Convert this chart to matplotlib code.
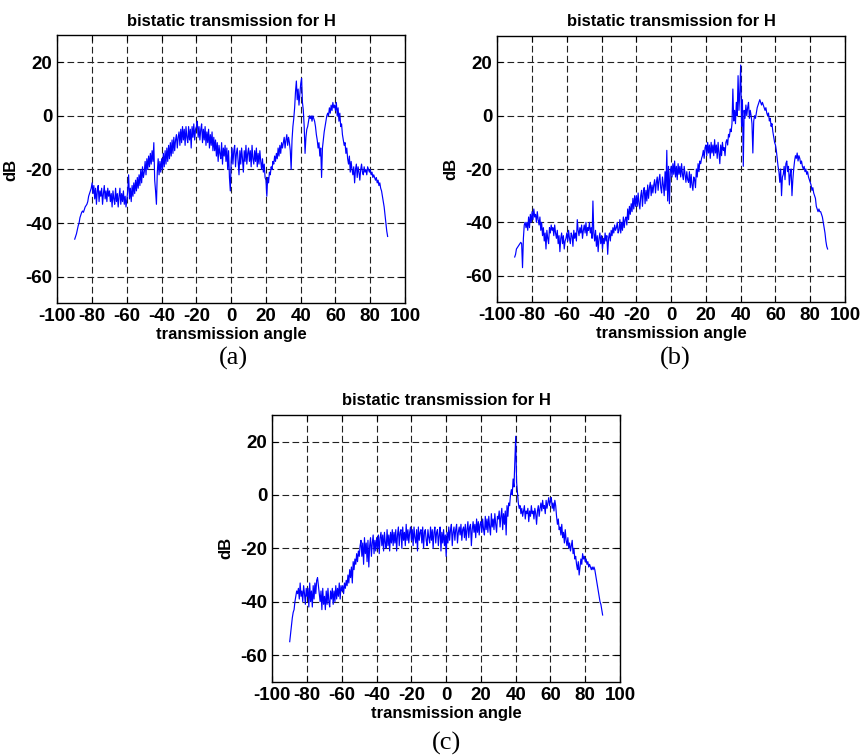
# -*- coding: utf-8 -*-

import numpy as np
import matplotlib
matplotlib.use('Agg')
import matplotlib.pyplot as plt


ANGLES = np.arange(-90, 90.5, 0.5)

DB_A = [
    -46, -45, -44, -42.5, -41, -40, -38, -37, -36, -35.5, -36, -35, -34, -33.5, -33, -32, -30, -29, -28, -27,
    -25, -29, -26, -31, -27, -33, -28, -26, -32, -28, -30, -27, -33, -29, -26, -31, -28, -32, -27, -30,
    -28, -32, -29, -34, -28, -31, -33, -27, -32, -29, -34, -30, -27, -33, -29, -32, -28, -33, -30, -34,
    -31, -28, -22, -31, -27, -32, -26, -30, -25, -29, -24, -28, -23, -27, -22, -26, -20, -25, -19, -23,
    -21, -17, -22, -16, -20, -15, -19, -14, -18, -13, -17, -10, -24, -28, -33, -21, -16, -22, -17, -21,
    -16, -20, -14, -19, -13, -18, -12, -17, -11, -16, -10, -15, -9, -14, -8, -13, -9, -7, -12, -8,
    -6, -11, -5, -10, -4, -9, -5, -11, -4, -8, -10, -4, -9, -5, -12, -4, -8, -3, -9, -5,
    -4, -2, -8, -4, -9, -5, -3, -10, -5, -9, -4, -11, -6, -10, -5, -12, -7, -11, -6, -13,
    -8, -13, -9, -15, -10, -17, -11, -14, -16, -10, -18, -12, -15, -11, -17, -12, -20, -13, -23, -28,
    -17, -12, -18, -13, -11, -19, -14, -12, -17, -22, -13, -18, -12, -16, -21, -13, -17, -11, -18, -14,
    -12, -17, -13, -19, -11, -16, -18, -13, -17, -12, -19, -14, -18, -13, -17, -20, -16, -21, -18, -23,
    -24, -30, -23, -25, -21, -22, -19, -20, -17, -18, -15, -17, -14, -16, -12, -15, -11, -14, -10, -12,
    -10, -8, -12, -9, -7, -11, -8, -10, -13, -20, -9, -4, -1, 3, 9, 13, 6, 10, 4, 8,
    12, 14, 5, 2, -4, -14, -8, -5, -4, -2, 0, -1, 0, -2, 0, -1, -2, -4, -7, -9,
    -12, -10, -15, -12, -23, -12, -9, -6, -4, -2, 0, 1, 0, 3, 1, 4, 2, 5, 3, 4,
    2, 5, 0, 3, -2, 1, -4, -3, -7, -9, -11, -10, -14, -12, -16, -18, -15, -21, -17, -20,
    -22, -19, -25, -20, -18, -23, -19, -21, -24, -20, -18, -21, -22, -19, -21, -20, -22, -19, -20, -21,
    -20, -22, -21, -23, -22, -23, -24, -23, -25, -24, -26, -25, -27, -28, -30, -32, -34, -37, -40, -43, -45,
]

DB_B = [
    -53, -52, -50, -49.5, -49, -48.5, -48, -47.5, -48, -57, -46, -41, -40, -42, -40, -43, -38, -42, -37, -40,
    -36, -39, -35, -38, -37, -40, -36, -39, -41, -38, -43, -40, -45, -42, -47, -44, -50, -43, -46, -48,
    -42, -44, -41, -43, -42, -45, -41, -44, -46, -43, -48, -45, -51, -46, -44, -48, -45, -50, -47, -46,
    -44, -47, -43, -46, -48, -44, -45, -49, -43, -46, -44, -47, -39, -43, -45, -42, -44, -41, -46, -43,
    -41, -44, -40, -45, -42, -43, -40, -44, -42, -46, -32, -44, -47, -43, -49, -45, -51, -46, -44, -48,
    -45, -50, -46, -48, -44, -47, -45, -52, -46, -44, -47, -43, -45, -42, -44, -41, -43, -42, -40, -44,
    -43, -39, -44, -40, -43, -38, -42, -39, -38, -41, -35, -39, -34, -37, -33, -36, -31, -35, -30, -34,
    -30, -34, -29, -33, -35, -30, -28, -34, -29, -27, -33, -28, -32, -26, -31, -27, -25, -30, -26, -29,
    -26, -24, -29, -25, -23, -28, -24, -22, -27, -29, -23, -26, -30, -21, -28, -13, -32, -19, -33, -21,
    -19, -23, -18, -22, -17, -23, -19, -24, -18, -22, -19, -23, -18, -22, -24, -19, -22, -25, -21, -24,
    -25, -21, -27, -22, -26, -28, -23, -24, -27, -20, -23, -18, -21, -17, -18, -16, -15, -13, -16, -12,
    -11, -15, -10, -14, -11, -16, -10, -14, -11, -15, -9, -14, -11, -16, -10, -14, -18, -11, -15, -10,
    -13, -12, -15, -10, -9, -11, -7, -8, -5, -6, -3, 10, -2, 2, -3, 5, 0, 15, 2, 9,
    19, -4, 6, -19, 2, -1, 4, 0, 3, 5, -1, 2, 0, -3, -14, -2, 0, -1, 1, 3,
    4, 5, 6, 5, 4, 5, 4, 3, 2, 3, 1, 0, 1, -2, -1, -4, -3, -6, -8, -10,
    -11, -13, -16, -19, -21, -25, -20, -30, -23, -22, -19, -24, -18, -17, -21, -19, -26, -22, -20, -30,
    -24, -20, -17, -15, -16, -14, -17, -15, -16, -18, -17, -19, -20, -19, -21, -20, -22, -21, -23, -24,
    -25, -26, -28, -27, -29, -30, -31, -34, -35, -36, -35, -36, -36, -37, -38, -40, -42, -44, -47, -49, -50,
]

DB_C = [
    -55, -52, -49, -46, -44, -43, -40, -38, -36, -37, -35, -39, -33, -38, -36, -40, -34, -37, -41, -35,
    -38, -35, -42, -33, -40, -36, -42, -34, -39, -33, -37, -32, -31, -34, -37, -40, -36, -43, -35, -41,
    -38, -43, -36, -41, -35, -40, -42, -36, -39, -35, -41, -36, -40, -34, -39, -35, -38, -33, -39, -34,
    -36, -34, -37, -33, -35, -32, -34, -30, -33, -28, -31, -27, -33, -25, -28, -24, -26, -22, -25, -21,
    -23, -19, -17, -23, -18, -26, -16, -22, -18, -25, -17, -27, -19, -16, -23, -18, -15, -22, -17, -21,
    -16, -20, -15, -22, -16, -14, -19, -15, -21, -14, -18, -20, -13, -19, -15, -21, -14, -18, -13, -19,
    -14, -18, -13, -21, -15, -12, -19, -14, -13, -20, -12, -17, -14, -19, -11, -17, -13, -18, -14, -12,
    -17, -13, -19, -12, -16, -18, -13, -21, -12, -17, -14, -13, -18, -12, -20, -14, -13, -17, -19, -13,
    -16, -18, -12, -17, -13, -20, -14, -12, -18, -14, -13, -19, -15, -12, -21, -14, -18, -13, -19, -15,
    -23, -14, -18, -12, -17, -13, -11, -19, -14, -12, -17, -13, -11, -18, -14, -12, -15, -11, -17, -13,
    -12, -16, -11, -17, -13, -10, -16, -12, -11, -19, -13, -10, -14, -11, -16, -9, -14, -10, -15, -11,
    -10, -14, -9, -13, -15, -8, -13, -9, -14, -8, -12, -15, -7, -12, -9, -13, -7, -11, -14, -8,
    -9, -6, -12, -8, -5, -13, -7, -11, -6, -15, -4, -8, -3, -4, 0, 2, 0, 6, 3, 12,
    22, 5, 1, -3, -5, -4, -7, -5, -8, -6, -4, -9, -6, -7, -5, -10, -6, -8, -4, -7,
    -6, -9, -5, -7, -11, -6, -4, -8, -5, -3, -6, -2, -5, -4, -7, -2, -5, -3, -1, -4,
    -2, -1, -5, -3, -6, -2, -4, -8, -11, -9, -13, -12, -15, -11, -16, -14, -18, -13, -17, -19,
    -16, -20, -18, -21, -19, -17, -22, -20, -24, -23, -26, -28, -25, -30, -27, -24, -26, -22, -24, -23,
    -25, -24, -26, -25, -27, -26, -27, -28, -27, -28, -27, -28, -30, -32, -34, -36, -38, -40, -41, -43, -45,
]

TITLE = 'bistatic transmission for H'
XTICKS = [-100, -80, -60, -40, -20, 0, 20, 40, 60, 80, 100]
YTICKS = [-60, -40, -20, 0, 20]
CAPTIONS = ['(a)', '(b)', '(c)']

plt.rcParams['font.family'] = ['Liberation Sans', 'DejaVu Sans']
plt.rcParams['axes.unicode_minus'] = False

fig = plt.figure(figsize=(8.61, 7.56), dpi=100)

POSITIONS = [[0.0666, 0.5986, 0.4038, 0.3545],
             [0.5776, 0.6001, 0.4038, 0.3527],
             [0.3163, 0.0983, 0.4038, 0.3528]]
CAPTION_XY = [(0.2706, 0.5265), (0.784, 0.5265), (0.519, 0.0160)]

for pos, data, cap, cxy in zip(POSITIONS, [DB_A, DB_B, DB_C], CAPTIONS, CAPTION_XY):
    ax = fig.add_axes(pos)
    ax.plot(ANGLES[:len(data)], data, color='#0000ff', lw=0.85)
    ax.set_xlim(-100, 100)
    ax.set_ylim(-70, 30)
    ax.set_xticks(XTICKS)
    ax.set_yticks(YTICKS)
    ax.tick_params(direction='in', length=4, labelsize=13.5, top=True, right=True,
                   pad=3.5)
    for lab in ax.get_xticklabels() + ax.get_yticklabels():
        lab.set_fontweight('bold')
    ax.grid(True, color='#222222', lw=0.8, linestyle=(0, (6, 3)))
    ax.set_axisbelow(True)
    ax.set_title(TITLE, fontsize=12, fontweight='bold', pad=7)
    ax.set_xlabel('transmission angle', fontsize=12, fontweight='bold', labelpad=1.5)
    ax.set_ylabel('dB', fontsize=12, fontweight='bold', labelpad=5)
    for s in ax.spines.values():
        s.set_linewidth(1.0)
    fig.text(cxy[0], cxy[1], cap, ha='center', va='center', fontsize=19,
             family='Liberation Serif')

fig.savefig('out.png', dpi=100)
